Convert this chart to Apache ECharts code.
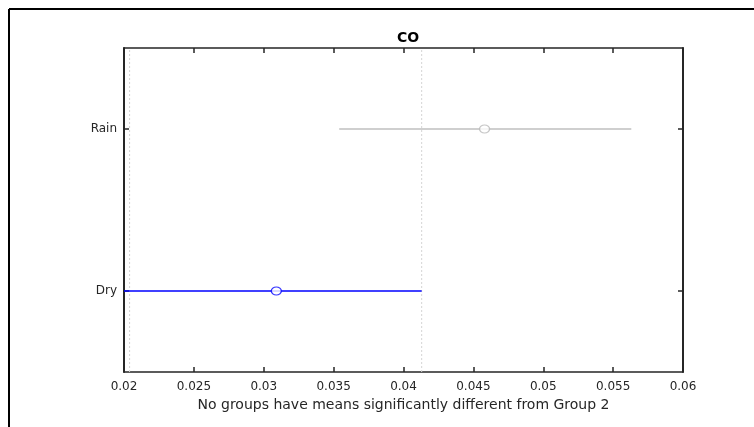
<!DOCTYPE html>
<html><head><meta charset="utf-8">
<script src="https://cdn.jsdelivr.net/npm/echarts@6/dist/echarts.min.js"></script>
<style>html,body{margin:0;padding:0;background:#fff}#c{width:754px;height:427px}</style>
</head><body><div id="c"></div>
<script>
// Data
var groups = ['Dry', 'Rain'];
var means = [0.0309, 0.0458];
var lowers = [0.0200, 0.0354];
var uppers = [0.0413, 0.0563];
var refLines = [0.0204, 0.0413]; // comparison interval of selected group (Dry)
var xTicks = { min: 0.02, max: 0.06, interval: 0.005 };
var titleText = 'CO';
var xLabel = 'No groups have means significantly different from Group 2';

var colors = ['#0000ff', '#bfbfbf'];
var markerColors = ['#0000ff', '#b8b8b8'];
var axisColor = '#262626';
var font = 'DejaVu Sans, sans-serif';

var series = [];
groups.forEach(function (g, i) {
  series.push({
    type: 'line', xAxisIndex: 0, yAxisIndex: 0,
    data: [[lowers[i], g], [uppers[i], g]],
    symbol: 'none', silent: true,
    lineStyle: { color: colors[i], width: 1.4 },
    z: 2
  });
  series.push({
    type: 'scatter', xAxisIndex: 0, yAxisIndex: 0,
    data: [[means[i], g]],
    symbol: 'circle', symbolSize: [10, 8], silent: true,
    itemStyle: { color: '#ffffff', borderColor: markerColors[i], borderWidth: 1.2 },
    z: 3
  });
});
refLines.forEach(function (v) {
  series.push({
    type: 'line', xAxisIndex: 0, yAxisIndex: 2, silent: true,
    data: [[v, 0], [v, 1]], symbol: 'none',
    lineStyle: { color: '#d4d4d4', type: [2, 2], width: 1 },
    z: 1
  });
});

var chart = echarts.init(document.getElementById('c'), null, { renderer: 'canvas' });
chart.setOption({
  animation: false,
  backgroundColor: '#fff',
  title: {
    text: titleText, left: 403, top: 26, textAlign: 'center',
    textStyle: { fontFamily: font, fontWeight: 'bold', fontSize: 14, color: '#000' }
  },
  grid: { left: 124, right: 71, top: 48, bottom: 55 },
  xAxis: [{
    type: 'value', position: 'bottom', min: xTicks.min, max: xTicks.max, interval: xTicks.interval,
    name: xLabel, nameLocation: 'middle', nameGap: 25,
    nameTextStyle: { fontFamily: font, fontSize: 14, color: axisColor },
    axisLine: { show: true, onZero: false, lineStyle: { color: axisColor, width: 1.5 } },
    axisTick: { show: true, inside: true, length: 5, lineStyle: { color: axisColor, width: 1.5 } },
    axisLabel: { fontFamily: font, fontSize: 12, color: axisColor, margin: 9 },
    splitLine: { show: false }
  }, {
    type: 'value', position: 'top', min: xTicks.min, max: xTicks.max, interval: xTicks.interval,
    axisLine: { show: true, onZero: false, lineStyle: { color: axisColor, width: 1.5 } },
    axisTick: { show: true, inside: true, length: 5, lineStyle: { color: axisColor, width: 1.5 } },
    axisLabel: { show: false }, splitLine: { show: false }
  }],
  yAxis: [{
    type: 'category', data: groups, position: 'left', boundaryGap: true,
    axisLine: { show: true, onZero: false, lineStyle: { color: axisColor, width: 2 } },
    axisTick: { show: true, inside: true, length: 5, alignWithLabel: true, lineStyle: { color: axisColor, width: 1.5 } },
    axisLabel: { fontFamily: font, fontSize: 12, color: axisColor, margin: 7 },
    splitLine: { show: false }
  }, {
    type: 'category', data: groups, position: 'right', boundaryGap: true,
    axisLine: { show: true, onZero: false, lineStyle: { color: axisColor, width: 2 } },
    axisTick: { show: true, inside: true, length: 5, alignWithLabel: true, lineStyle: { color: axisColor, width: 1.5 } },
    axisLabel: { show: false }, splitLine: { show: false }
  }, {
    type: 'value', min: 0, max: 1, show: false
  }],
  graphic: [
    { type: 'line', shape: { x1: 9, y1: 9, x2: 754, y2: 9 }, style: { stroke: '#000', lineWidth: 2 }, silent: true },
    { type: 'line', shape: { x1: 9, y1: 9, x2: 9, y2: 427 }, style: { stroke: '#000', lineWidth: 2 }, silent: true }
  ],
  series: series
});
</script></body></html>
